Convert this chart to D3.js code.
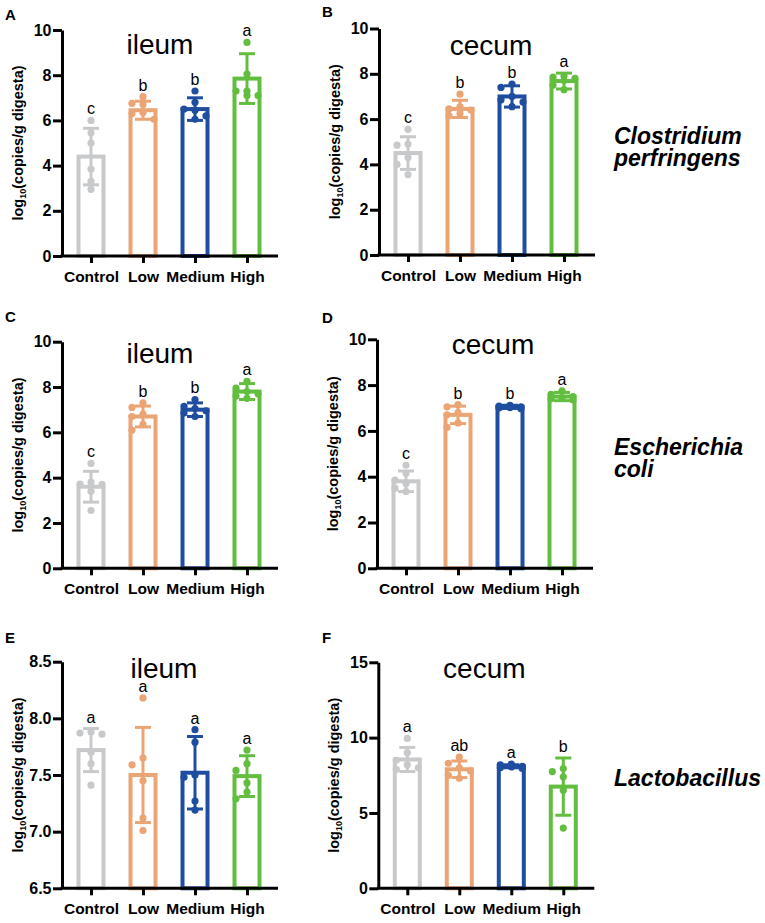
<!DOCTYPE html>
<html>
<head>
<meta charset="utf-8">
<script src="https://cdn.jsdelivr.net/npm/d3@7"></script>
<style>
  body { margin: 0; background: #fff; }
  svg { font-family: Arial, "Liberation Sans", sans-serif; }
</style>
</head>
<body>
<svg id="chart" width="765" height="923"></svg>
<script>
// groups and colours
var groups = ["Control", "Low", "Medium", "High"];
var colors = ["#c8c9cb", "#eba474", "#1f4da0", "#63be40"];

// y tick labels
var ticks10 = [0, 2, 4, 6, 8, 10];
var ticksE = [6.5, 7.0, 7.5, 8.0, 8.5];
var ticksF = [0, 5, 10, 15];

// A - Clostridium perfringens, ileum
var aMean = [4.4, 6.45, 6.5, 7.85];
var aSd = [1.25, 0.4, 0.5, 1.1];
var aPoints = [[6.0, 5.45, 5.0, 3.85, 3.3, 2.95], [7.05, 6.75, 6.7, 6.35, 6.3, 6.05], [7.3, 6.8, 6.5, 6.45, 6.2, 6.05], [9.45, 8.05, 7.3, 7.3, 7.1, 7.1]];
var aLetters = ["c", "b", "b", "a"];

// B - Clostridium perfringens, cecum
var bMean = [4.5, 6.45, 7.0, 7.68];
var bSd = [0.72, 0.38, 0.47, 0.35];
var bPoints = [[5.55, 4.9, 4.85, 4.3, 4.0, 3.55], [7.1, 6.55, 6.45, 6.4, 6.25, 6.15], [7.55, 7.4, 7.0, 6.85, 6.75, 6.55], [7.9, 7.85, 7.8, 7.7, 7.5, 7.3]];
var bLetters = ["c", "b", "b", "a"];

// C - Escherichia coli, ileum
var cMean = [3.6, 6.7, 7.0, 7.8];
var cSd = [0.68, 0.46, 0.3, 0.35];
var cPoints = [[4.63, 3.8, 3.72, 3.7, 3.4, 2.55], [7.3, 7.1, 6.8, 6.7, 6.35, 6.1], [7.45, 7.15, 7.05, 6.95, 6.85, 6.7], [8.25, 7.95, 7.8, 7.7, 7.6, 7.5]];
var cLetters = ["c", "b", "b", "a"];

// D - Escherichia coli, cecum
var dMean = [3.8, 6.7, 7.05, 7.5];
var dSd = [0.45, 0.38, 0.07, 0.18];
var dPoints = [[4.5, 4.15, 3.85, 3.7, 3.5, 3.35], [7.15, 7.05, 6.8, 6.7, 6.35, 6.15], [7.12, 7.08, 7.05, 7.02, 7.0, 6.97], [7.75, 7.6, 7.5, 7.45, 7.4, 7.35]];
var dLetters = ["c", "b", "b", "a"];

// E - Lactobacillus, ileum
var eMean = [7.72, 7.5, 7.52, 7.49];
var eSd = [0.19, 0.42, 0.32, 0.18];
var ePoints = [[7.88, 7.87, 7.86, 7.7, 7.6, 7.41], [8.18, 7.65, 7.59, 7.45, 7.12, 7.01], [7.9, 7.79, 7.5, 7.48, 7.27, 7.19], [7.72, 7.6, 7.54, 7.43, 7.35, 7.29]];
var eLetters = ["a", "a", "a", "a"];

// F - Lactobacillus, cecum
var fMean = [8.55, 7.9, 8.1, 6.75];
var fSd = [0.8, 0.55, 0.1, 1.9];
var fPoints = [[9.95, 9.0, 8.5, 8.2, 8.0, 7.9], [8.7, 8.3, 8.0, 7.8, 7.5, 7.3], [8.25, 8.2, 8.1, 8.05, 8.0, 7.95], [7.95, 7.75, 7.4, 6.5, 4.0]];
var fLetters = ["a", "ab", "a", "b"];

var species = [["Clostridium", "perfringens"], ["Escherichia", "coli"], ["Lactobacillus"]];

var panels = [
  {label: "A", title: "ileum", mean: aMean, sd: aSd, pts: aPoints, letters: aLetters, domain: [0, 10], ticks: ticks10, fmt: "d",
   x0: 62, yTop: 30, yBot: 256, lx: 5, ly: 20, tx: 98, ty: 24},
  {label: "B", title: "cecum", mean: bMean, sd: bSd, pts: bPoints, letters: bLetters, domain: [0, 10], ticks: ticks10, fmt: "d",
   x0: 379, yTop: 28.5, yBot: 255, lx: 322, ly: 17, tx: 112, ty: 26},
  {label: "C", title: "ileum", mean: cMean, sd: cSd, pts: cPoints, letters: cLetters, domain: [0, 10], ticks: ticks10, fmt: "d",
   x0: 62, yTop: 341.7, yBot: 568.3, lx: 5, ly: 322, tx: 98, ty: 21.6},
  {label: "D", title: "cecum", mean: dMean, sd: dSd, pts: dPoints, letters: dLetters, domain: [0, 10], ticks: ticks10, fmt: "d",
   x0: 377, yTop: 339.3, yBot: 568.3, lx: 322, ly: 323, tx: 116, ty: 15},
  {label: "E", title: "ileum", mean: eMean, sd: eSd, pts: ePoints, letters: eLetters, domain: [6.5, 8.5], ticks: ticksE, fmt: ".1f",
   x0: 62, yTop: 661.7, yBot: 888.3, lx: 5, ly: 643, tx: 102, ty: 16.6},
  {label: "F", title: "cecum", mean: fMean, sd: fSd, pts: fPoints, letters: fLetters, domain: [0, 15], ticks: ticksF, fmt: "d",
   x0: 378.3, yTop: 662.3, yBot: 888.3, lx: 322, ly: 643, tx: 106, ty: 16}
];

var svg = d3.select("#chart");
var axisW = 216, barW = 25, capW = 16, dotR = 3.6, step = 11;

// simple beeswarm: points that would overlap get pushed sideways
function swarm(vals, y) {
  var placed = [];
  vals.slice().sort((a, b) => b - a).forEach(v => {
    var py = y(v), best = 0, bestD = -1;
    [0, -step, step].forEach(c => {
      var dmin = d3.min(placed, q => Math.hypot(q.dx - c, q.py - py));
      if (dmin === undefined) dmin = 1e9;
      if (bestD < 2 * dotR + 0.6 && dmin > bestD) { best = c; bestD = dmin; }
    });
    placed.push({v: v, py: py, dx: best});
  });
  return placed;
}

panels.forEach(p => {
  var g = svg.append("g");
  var x = d3.scalePoint().domain(groups).range([p.x0 + 29, p.x0 + 185]);
  var y = d3.scaleLinear().domain(p.domain).range([p.yBot, p.yTop]);

  // bars
  g.selectAll("rect.bar").data(groups).enter().append("rect")
    .attr("x", d => x(d) - barW / 2)
    .attr("y", (d, i) => y(p.mean[i]))
    .attr("width", barW)
    .attr("height", (d, i) => p.yBot - y(p.mean[i]))
    .attr("fill", "#fff")
    .attr("stroke", (d, i) => colors[i])
    .attr("stroke-width", 4);

  // dots
  groups.forEach((gr, i) => {
    g.selectAll(null).data(swarm(p.pts[i], y)).enter().append("circle")
      .attr("cx", d => x(gr) + d.dx)
      .attr("cy", d => d.py)
      .attr("r", dotR)
      .attr("fill", colors[i]);
  });

  // error bars
  groups.forEach((gr, i) => {
    var hi = y(p.mean[i] + p.sd[i]), lo = y(p.mean[i] - p.sd[i]), cx = x(gr);
    var eg = g.append("g").attr("stroke", colors[i]).attr("stroke-width", 3);
    eg.append("line").attr("x1", cx).attr("x2", cx).attr("y1", hi).attr("y2", lo);
    eg.append("line").attr("x1", cx - capW / 2).attr("x2", cx + capW / 2).attr("y1", hi).attr("y2", hi);
    eg.append("line").attr("x1", cx - capW / 2).attr("x2", cx + capW / 2).attr("y1", lo).attr("y2", lo);
  });

  // significance letters
  g.selectAll("text.sig").data(groups).enter().append("text")
    .attr("x", d => x(d))
    .attr("y", (d, i) => y(Math.max(d3.max(p.pts[i]), p.mean[i] + p.sd[i])) - 6)
    .attr("text-anchor", "middle")
    .style("font-size", "16px")
    .text((d, i) => p.letters[i]);

  // y axis
  var ya = g.append("g").attr("transform", "translate(" + p.x0 + ",0)")
    .call(d3.axisLeft(y).tickValues(p.ticks).tickFormat(d3.format(p.fmt)).tickSize(9).tickSizeOuter(0).tickPadding(1.5));
  ya.select(".domain").attr("stroke-width", 3);
  ya.selectAll(".tick line").attr("stroke-width", 3);
  ya.selectAll(".tick text").attr("fill", "#000").style("font-size", "16px").style("font-weight", "bold")
    .style("font-family", "Arial, 'Liberation Sans', sans-serif");

  // x axis
  var xa = g.append("g").attr("transform", "translate(0," + p.yBot + ")")
    .call(d3.axisBottom(x).tickSize(7).tickPadding(8));
  xa.select(".domain").remove();
  xa.append("line").attr("x1", p.x0 - 1.5).attr("x2", p.x0 + axisW).attr("stroke", "#000").attr("stroke-width", 3);
  xa.selectAll(".tick line").attr("stroke-width", 3);
  xa.selectAll(".tick text").attr("fill", "#000").style("font-size", "15.5px").style("font-weight", "bold")
    .style("font-family", "Arial, 'Liberation Sans', sans-serif");

  // y label
  var yl = g.append("text")
    .attr("transform", "translate(" + (p.x0 - 39) + "," + ((p.yTop + p.yBot) / 2) + ") rotate(-90)")
    .attr("text-anchor", "middle")
    .style("font-size", "14.5px").style("font-weight", "bold");
  yl.append("tspan").text("log");
  yl.append("tspan").attr("dy", 3).style("font-size", "9px").text("10");
  yl.append("tspan").attr("dy", -3).text("(copies/g digesta)");

  // title and panel letter
  g.append("text").attr("x", p.x0 + p.tx).attr("y", p.yTop + p.ty)
    .attr("text-anchor", "middle").style("font-size", "28px").text(p.title);
  g.append("text").attr("x", p.lx).attr("y", p.ly)
    .style("font-size", "15px").style("font-weight", "bold").text(p.label);
});

// species names on the right
var spY = [[144, 166], [455, 477], [786]];
species.forEach((lines, i) => {
  lines.forEach((s, j) => {
    svg.append("text").attr("x", 614).attr("y", spY[i][j])
      .style("font-size", "23px").style("font-weight", "bold").style("font-style", "italic")
      .text(s);
  });
});
</script>
</body>
</html>
